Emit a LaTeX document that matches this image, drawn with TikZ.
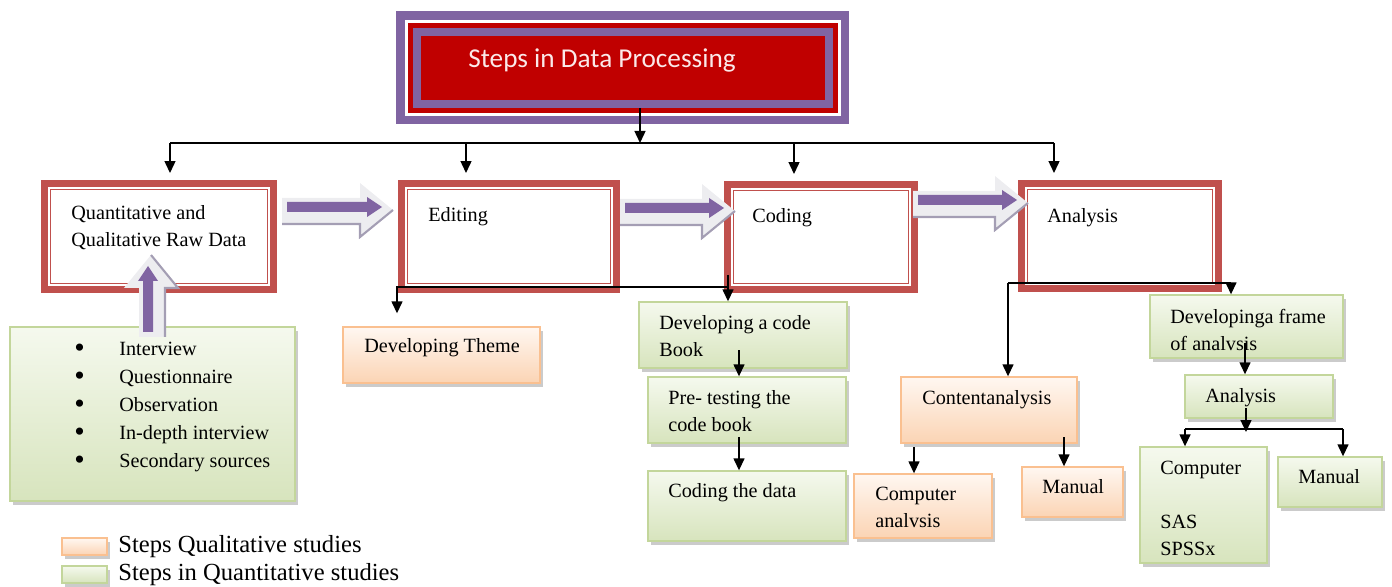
\documentclass[tikz,border=0pt]{standalone}
\usepackage{fontspec}
\setmainfont{Liberation Serif}
\newfontfamily\titlefont{Carlito}
\usetikzlibrary{arrows.meta,shadows}

\definecolor{titlered}{HTML}{C00000}
\definecolor{titlepurple}{HTML}{8064A2}
\definecolor{titletext}{HTML}{FBE9E9}
\definecolor{boxred}{HTML}{C0504D}
\definecolor{greenline}{HTML}{C3D69B}
\definecolor{greentop}{HTML}{F5F9EE}
\definecolor{greenbottom}{HTML}{D7E4BD}
\definecolor{orangeline}{HTML}{FAC090}
\definecolor{orangetop}{HTML}{FFF7F1}
\definecolor{orangebottom}{HTML}{FBD4B4}
\definecolor{arrowgray}{HTML}{EDEDF0}
\definecolor{arrowedge}{HTML}{A49EB4}

\tikzset{
	titlebox/.style={fill=titlered, draw=titlepurple, line width=0.16cm, inner sep=0pt,
		preaction={draw=titlepurple, line width=0.82cm},
		preaction={draw=white, line width=0.48cm},
		preaction={draw=titlered, line width=0.36cm}},
	stepbox/.style={draw=boxred, line width=0.14cm, fill=white, inner sep=0pt,
		path picture={\draw[boxred, line width=0.6pt]
			([shift={(0.12cm,-0.12cm)}]path picture bounding box.north west) rectangle
			([shift={(-0.12cm,0.12cm)}]path picture bounding box.south east);}},
	softshadow/.style={drop shadow={shadow xshift=0.06cm, shadow yshift=-0.08cm, fill=black!45, opacity=0.45}},
	quantbox/.style={draw=greenline, line width=0.8pt, top color=greentop, bottom color=greenbottom, inner sep=0pt, softshadow},
	qualbox/.style={draw=orangeline, line width=0.8pt, top color=orangetop, bottom color=orangebottom, inner sep=0pt, softshadow},
	boxtext/.style={anchor=north west, inner sep=0pt, align=left, font=\fontsize{11.5}{15.3}\selectfont},
	link/.style={draw=black, line width=0.8pt, -{Triangle[length=0.24cm, width=0.22cm]}},
	bar/.style={draw=black, line width=0.8pt}
}

% block arrow: tip x, tip y, rotation, length
\newcommand{\flowarrow}[4]{%
	\begin{scope}[shift={(#1,#2)}, rotate=#3]
		\fill[arrowgray] (-#4,-12) -- (-33,-12) -- (-33,-27) -- (0,0) -- (-33,27) -- (-33,14) -- (-#4,14) -- cycle;
		\draw[arrowedge, line width=1.2pt] (-#4,14) -- (-33,14) -- (-33,27) -- (0,0);
		\fill[titlepurple] (-#4+5,-8) -- (-26,-8) -- (-26,-13) -- (-11,-3) -- (-26,7) -- (-26,2) -- (-#4+5,2) -- cycle;
	\end{scope}}
% bullet of the source list
\newcommand{\listdot}{\makebox[0.9cm][l]{\raisebox{-0.2ex}{\fontsize{17}{17}\selectfont\textbullet}}}

\begin{document}
\begin{tikzpicture}[x=0.02cm, y=-0.02cm]
	\useasboundingbox (0,0) rectangle (1392,587);

	% title
	\node[titlebox, minimum width=8.25cm, minimum height=1.45cm] (title) at (622.75,67.75) {};
	\node[anchor=base west, inner sep=0pt, text=titletext, font=\titlefont\fontsize{15.5}{18}\selectfont] (titletext) at (468,68) {Steps in Data Processing};

	% the four steps
	\node[stepbox, minimum width=4.58cm, minimum height=2.12cm] (raw) at (159,236.5) {};
	\node[stepbox, minimum width=4.3cm, minimum height=2.12cm] (edit) at (509,236.5) {};
	\node[stepbox, minimum width=3.74cm, minimum height=2.1cm] (code) at (821,237) {};
	\node[stepbox, minimum width=3.94cm, minimum height=2.1cm] (anal) at (1120,236) {};
	\node[boxtext] (rawtext) at (71,205) {Quantitative and\\Qualitative Raw Data};
	\node[boxtext] (edittext) at (428,207) {Editing};
	\node[boxtext] (codetext) at (752,208) {Coding};
	\node[boxtext] (analtext) at (1047,208) {Analysis};

	% sources
	\node[quantbox, minimum width=5.7cm, minimum height=3.48cm] (list) at (152.5,414) {};
	\node[boxtext, font=\fontsize{11.5}{15.9}\selectfont] (listtext) at (74,342) {%
		\listdot Interview\\
		\listdot Questionnaire\\
		\listdot Observation\\
		\listdot In-depth interview\\
		\listdot Secondary sources};

	% editing and coding
	\node[qualbox, minimum width=3.94cm, minimum height=1.12cm] (theme) at (441.5,355) {};
	\node[boxtext] (themetext) at (364,338) {Developing Theme};
	\node[quantbox, minimum width=4.16cm, minimum height=1.32cm] (codebook) at (743,335) {};
	\node[boxtext] (codebooktext) at (659,315) {Developing a code\\Book};
	\node[quantbox, minimum width=3.96cm, minimum height=1.32cm] (pretest) at (747,410) {};
	\node[boxtext] (pretesttext) at (668,390) {Pre- testing the\\code book};
	\node[quantbox, minimum width=3.96cm, minimum height=1.4cm] (codedata) at (747,506) {};
	\node[boxtext] (codedatatext) at (668,483) {Coding the data};

	% qualitative analysis
	\node[qualbox, minimum width=3.52cm, minimum height=1.32cm] (content) at (989,410) {};
	\node[boxtext] (contenttext) at (922,390) {Contentanalysis};
	\node[qualbox, minimum width=2.76cm, minimum height=1.28cm] (compan) at (923,506) {};
	\node[boxtext] (compantext) at (875,487) {Computer\\analvsis};
	\node[qualbox, minimum width=2.02cm, minimum height=1cm] (qualmanual) at (1072.5,492) {};
	\node[boxtext] (qualmanualtext) at (1042,479) {Manual};

	% quantitative analysis
	\node[quantbox, minimum width=3.86cm, minimum height=1.26cm] (frame) at (1246.5,326.5) {};
	\node[boxtext] (frametext) at (1170,309) {Developinga frame\\of analvsis};
	\node[quantbox, minimum width=2.96cm, minimum height=0.86cm] (subanal) at (1259,396.5) {};
	\node[boxtext] (subanaltext) at (1205,388) {Analysis};
	\node[quantbox, minimum width=2.54cm, minimum height=2.32cm] (computer) at (1203.5,505) {};
	\node[boxtext] (computertext) at (1160,461) {Computer\\ \\SAS\\SPSSx};
	\node[quantbox, minimum width=2.08cm, minimum height=1cm] (quantmanual) at (1330,482) {};
	\node[boxtext] (quantmanualtext) at (1298,469) {Manual};

	% legend
	\node[qualbox, minimum width=0.9cm, minimum height=0.34cm] (legqual) at (84.5,546.5) {};
	\node[anchor=west, inner sep=0pt, font=\fontsize{14}{16}\selectfont] (legqualtext) at (118,547) {Steps Qualitative studies};
	\node[quantbox, minimum width=0.9cm, minimum height=0.34cm] (legquant) at (84.5,574.5) {};
	\node[anchor=west, inner sep=0pt, font=\fontsize{14}{16}\selectfont] (legquanttext) at (118,575) {Steps in Quantitative studies};

	% from the title to the steps
	\coordinate (hub) at (640,143);
	\draw[link] (title.south -| hub) -- (hub);
	\draw[bar] (170,143) -- (1054,143);
	\foreach \n/\x in {raw/170, edit/466, code/794, anal/1054}
		\draw[link, shorten >=0.14cm] (\x,143) -- (\x,143 |- \n.north);

	% coding branches
	\draw[link] (728,275) -- (728,275 |- codebook.north);
	\draw[link, shorten >=0.26cm] (728,287) -- (397,287) -- (397,287 |- theme.north);
	\draw[link] (739,350) -- (739,350 |- pretest.north);
	\draw[link] (739,437) -- (739,437 |- codedata.north);

	% analysis branches
	\draw[bar] (1008,283) -- (1231,283);
	\draw[link] (1008,283) -- (1008,283 |- content.north);
	\draw[link] (1231,283) -- (1231,283 |- frame.north);
	\draw[link] (914,447) -- (914,447 |- compan.north);
	\draw[link] (1064,437) -- (1064,437 |- qualmanual.north);
	\draw[link] (1245,343) -- (1245,343 |- subanal.north);
	\draw[link] (1246,408) -- (1246,432);
	\draw[bar] (1185,429) -- (1343,429);
	\draw[link] (1185,429) -- (1185,429 |- computer.north);
	\draw[link] (1343,429) -- (1343,429 |- quantmanual.north);

	% block arrows
	\flowarrow{393}{210}{0}{111}
	\flowarrow{735}{211}{0}{115}
	\flowarrow{1028}{203}{0}{115}
	\flowarrow{151}{255}{90}{82}
\end{tikzpicture}
\end{document}
